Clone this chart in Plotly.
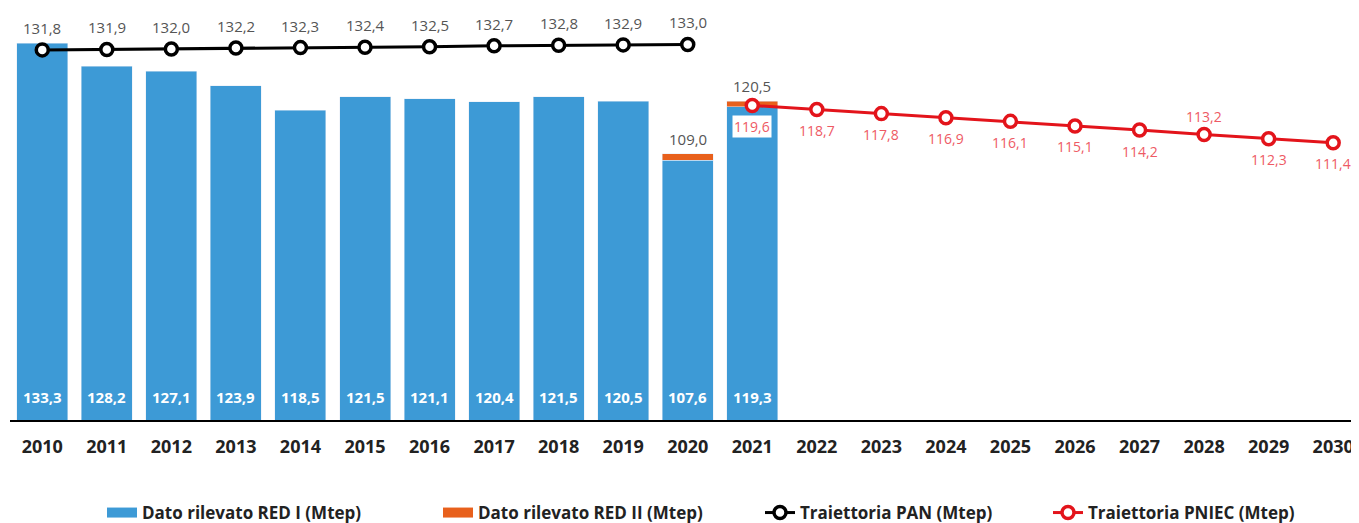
import plotly.graph_objects as go

years_bar = [2010, 2011, 2012, 2013, 2014, 2015, 2016, 2017, 2018, 2019, 2020, 2021]
red1 = [133.3, 128.2, 127.1, 123.9, 118.5, 121.5, 121.1, 120.4, 121.5, 120.5, 107.6, 119.3]
years_red2 = [2020, 2021]
red2_total = [109.0, 120.5]

years_pan = list(range(2010, 2021))
pan = [131.8, 131.9, 132.0, 132.2, 132.3, 132.4, 132.5, 132.7, 132.8, 132.9, 133.0]

years_pniec = list(range(2021, 2031))
pniec = [119.6, 118.7, 117.8, 116.9, 116.1, 115.1, 114.2, 113.2, 112.3, 111.4]

BLUE = '#3d9ad6'
ORANGE = '#e8601c'
RED = '#e3141b'
FONT = 'Open Sans'
Y_MIN, Y_MAX = 50.5, 141.0
# page draws the figure 8px in from the corner (body margin)
W, H = 1351, 523
ML, MB = 2, 111


def fmt(v):
    return f'{v:.1f}'.replace('.', ',')


red1_by_year = dict(zip(years_bar, red1))
red2 = [round(t - red1_by_year[y], 1) for y, t in zip(years_red2, red2_total)]

fig = go.Figure()

fig.add_trace(go.Bar(
    x=years_bar, y=red1,
    name='Dato rilevato RED I (Mtep)',
    marker=dict(color=BLUE),
    showlegend=False,
))

fig.add_trace(go.Bar(
    x=years_red2, y=red2,
    name='Dato rilevato RED II (Mtep)',
    marker=dict(color=ORANGE),
    showlegend=False,
))

fig.add_trace(go.Scatter(
    x=years_pan, y=pan,
    name='Traiettoria PAN (Mtep)',
    mode='lines+markers',
    line=dict(color='black', width=3),
    marker=dict(symbol='circle', size=12, color='white', line=dict(color='black', width=3.5)),
    cliponaxis=False,
    legend='legend3',
))

fig.add_trace(go.Scatter(
    x=years_pniec, y=pniec,
    name='Traiettoria PNIEC (Mtep)',
    mode='lines+markers',
    line=dict(color=RED, width=3),
    marker=dict(symbol='circle', size=12, color='white', line=dict(color=RED, width=3.5)),
    cliponaxis=False,
    legend='legend4',
))

# legend swatches for the bars (wide rectangles like the original)
fig.add_trace(go.Scatter(
    x=[None], y=[None], mode='lines', name='Dato rilevato RED I (Mtep)',
    line=dict(color=BLUE, width=16), legend='legend',
))
fig.add_trace(go.Scatter(
    x=[None], y=[None], mode='lines', name='Dato rilevato RED II (Mtep)',
    line=dict(color=ORANGE, width=16), legend='legend2',
))

# PAN labels above the points
for yr, v in zip(years_pan, pan):
    fig.add_annotation(
        x=yr, y=v, text=fmt(v), showarrow=False, yshift=22,
        font=dict(color='#555555', size=15, family=FONT),
    )

# PNIEC labels, below the points except 2028
for yr, v in zip(years_pniec, pniec):
    box = yr == years_pniec[0]
    fig.add_annotation(
        x=yr, y=v, text=fmt(v), showarrow=False,
        yshift=18 if yr == 2028 else -21,
        font=dict(color='#ee5a64', size=14, family=FONT),
        bgcolor='white' if box else None, borderpad=1,
    )

# RED II totals above the stacked bars
for yr, t in zip(years_red2, red2_total):
    fig.add_annotation(
        x=yr, y=t, text=fmt(t), showarrow=False, yshift=15,
        font=dict(color='#555555', size=15, family=FONT),
    )

# bar values at the bottom of each bar
for yr, v in zip(years_bar, red1):
    fig.add_annotation(
        x=yr, y=Y_MIN, text=f'<b>{fmt(v)}</b>',
        showarrow=False, yanchor='middle', yshift=23,
        font=dict(color='white', size=15, family=FONT),
    )

plot_h = H - MB
legend_common = dict(
    orientation='h', xanchor='left', yanchor='middle', y=-(505 - plot_h) / plot_h,
    font=dict(size=17, color='#222222', family=FONT, weight='bold'),
    bgcolor='rgba(0,0,0,0)', itemwidth=30,
)
plot_w = W - ML


def lx(text_px):
    # legend x so that its text starts at this page pixel
    return (text_px - 8 - 40 - ML) / plot_w


fig.update_layout(
    width=W, height=H,
    margin=dict(l=ML, r=0, t=0, b=MB),
    barmode='stack',
    bargap=0.21,
    plot_bgcolor='white',
    paper_bgcolor='white',
    font=dict(family=FONT, color='#222222'),
    xaxis=dict(
        range=[2009.5, 2030.4],
        tickmode='array', tickvals=list(range(2010, 2031)),
        tickfont=dict(size=18, color='#222222', family=FONT, weight='bold'),
        showline=True, linecolor='black', linewidth=2,
        showgrid=False, zeroline=False,
        ticklabelstandoff=9,
    ),
    yaxis=dict(
        range=[Y_MIN, Y_MAX],
        visible=False,
        showgrid=False, zeroline=False,
    ),
    legend=dict(legend_common, x=lx(142)),
    legend2=dict(legend_common, x=lx(478)),
    legend3=dict(legend_common, x=lx(800)),
    legend4=dict(legend_common, x=lx(1088)),
)

fig.write_html('out.html')
